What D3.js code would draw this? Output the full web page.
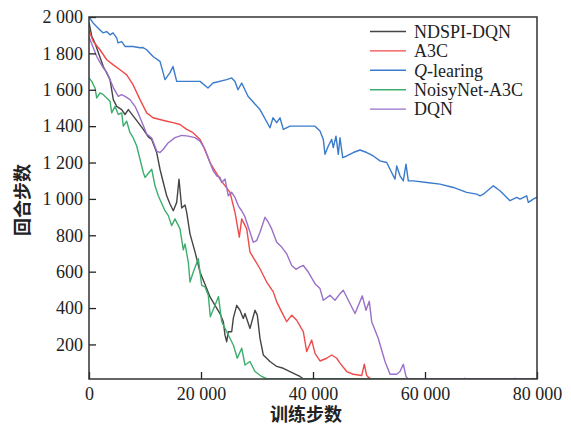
<!DOCTYPE html>
<html>
<head>
<meta charset="utf-8">
<script src="https://cdn.jsdelivr.net/npm/d3@7"></script>
<style>
  body { margin: 0; background: #fff; }
  svg { display: block; }
  .tick text { font-family: "Liberation Serif", "Times New Roman", serif; font-size: 18px; fill: #222; }
  .tick line { stroke: #222; stroke-width: 1.3; }
  .axis-title { font-family: "Liberation Sans", "Noto Sans CJK SC", sans-serif; font-size: 18px; font-weight: bold; fill: #222; }
</style>
</head>
<body>
<div id="chart"></div>
<script>
// 训练步数 / 回合步数
const xTicks = [0, 20000, 40000, 60000, 80000];
const yTicks = [200, 400, 600, 800, 1000, 1200, 1400, 1600, 1800, 2000];
const seriesNames = ['NDSPI-DQN', 'A3C', 'Q-learing', 'NoisyNet-A3C', 'DQN'];
const seriesColors = ['#454545', '#f04a4a', '#3b7bcc', '#3dae6e', '#9a70c8'];

const ndspiDqn = [[0,1970],[482,1896],[1071,1856],[1964,1779],[2554,1728],[3161,1692],[3750,1656],
  [4339,1546],[4946,1509],[5839,1491],[6429,1464],[7018,1491],[7911,1455],[8804,1419],[9696,1382],
  [10589,1341],[11196,1327],[12089,1255],[12679,1163],[13268,1090],[13875,1017],[14464,972],
  [15054,935],[15661,981],[16071,1109],[16554,950],[17143,967],[17446,926],[18036,808],[18929,709],
  [19821,598],[21018,507],[21607,461],[22500,415],[23393,370],[23982,325],[24286,251],[24589,215],
  [24875,270],[25482,270],[25768,343],[26375,415],[26964,388],[27554,343],[27857,370],[28750,288],
  [29643,388],[30054,361],[30536,233],[31125,142],[32321,106],[33518,79],[34696,69],[35893,51],
  [37089,33],[37679,24],[38300,0],[80000,0]];

const a3c = [[0,1925],[768,1865],[1964,1820],[3161,1765],[4286,1738],[5536,1710],[6732,1682],
  [7857,1628],[9107,1546],[10304,1473],[11429,1446],[13875,1427],[15000,1419],[16250,1409],
  [17446,1382],[18571,1364],[19821,1327],[20411,1291],[21607,1200],[23393,1109],[25179,1036],
  [26071,926],[26839,790],[27268,890],[28161,835],[28750,708],[30536,616],[31732,543],[32911,489],
  [33518,434],[34696,361],[35304,325],[36196,361],[37089,333],[38268,270],[38875,161],[39768,224],
  [40357,151],[41250,109],[42446,124],[43339,142],[44232,124],[44821,97],[46018,51],[47196,36],
  [48696,29],[49161,91],[49589,29],[49875,20],[50400,0],[80000,0]];

const qLearning = [[0,2000],[768,1966],[1964,1929],[2500,1913],[3161,1920],[3750,1902],[4286,1913],
  [4946,1885],[5179,1858],[5839,1865],[6429,1838],[7857,1838],[9107,1831],[9643,1832],[10304,1820],
  [11429,1783],[12679,1756],[13571,1656],[14464,1694],[15000,1728],[15661,1646],[17446,1646],
  [19821,1646],[21250,1610],[22143,1637],[24589,1656],[25482,1665],[26071,1646],[26607,1600],
  [27268,1637],[28393,1564],[30536,1491],[32321,1391],[32857,1446],[33518,1419],[34107,1446],
  [34696,1382],[35893,1400],[37679,1400],[40357,1400],[41250,1373],[41839,1327],[42143,1245],
  [42732,1291],[43339,1327],[43625,1282],[44107,1345],[44518,1245],[44821,1336],[45304,1227],
  [46018,1236],[47196,1255],[48393,1269],[49589,1255],[50768,1236],[51964,1209],[53161,1200],
  [53750,1163],[54643,1109],[54946,1181],[55536,1127],[56125,1099],[56607,1191],[57018,1099],
  [57911,1099],[60304,1090],[62679,1081],[65054,1063],[67446,1036],[69232,1026],[69821,1017],
  [70411,1026],[72196,1072],[73393,1045],[75179,990],[76375,1008],[76964,999],[78161,1017],
  [78446,981],[79339,999],[80000,1010]];

const noisyNetA3c = [[0,1665],[482,1646],[1071,1610],[1375,1555],[1964,1583],[2554,1573],[3161,1555],
  [3750,1537],[4054,1473],[4643,1509],[5232,1464],[5839,1473],[6125,1400],[6732,1427],[7321,1364],
  [7911,1335],[8518,1291],[9107,1218],[9696,1145],[10000,1118],[11196,1163],[11786,1072],
  [12375,1017],[13571,935],[14161,908],[14768,853],[15357,890],[16250,835],[16839,720],[17143,753],
  [17732,653],[18036,543],[18625,598],[19518,671],[20125,525],[20714,516],[21304,470],[21661,352],
  [22500,415],[23125,463],[23696,325],[24589,270],[25768,197],[26482,124],[27268,179],[27857,87],
  [28750,106],[29643,51],[30839,24],[31800,0],[66800,0],[67100,14],[67400,0],[75800,0],[76100,14],
  [76400,0],[79000,0],[79300,14],[79600,0],[80000,0]];

const dqn = [[0,1890],[768,1831],[1375,1783],[1964,1751],[2554,1720],[3161,1697],[3750,1656],
  [4339,1612],[5232,1564],[5839,1573],[6429,1564],[7321,1546],[8214,1509],[8804,1470],[9696,1404],
  [10304,1357],[11196,1335],[12089,1263],[12679,1255],[13268,1273],[14161,1309],[15357,1337],
  [16554,1349],[17732,1345],[18929,1337],[19821,1318],[20714,1273],[21607,1200],[22196,1154],
  [22804,1127],[23393,1118],[23696,1090],[24286,1109],[24875,1017],[25482,1036],[26071,1008],
  [26661,962],[27268,935],[27857,901],[28750,817],[29339,762],[29946,771],[30536,817],[31429,899],
  [32018,872],[32625,835],[33518,762],[34411,735],[35304,698],[36196,634],[36964,613],[37679,626],
  [38268,634],[39161,598],[40357,534],[41250,507],[41839,443],[43036,470],[43929,443],[44821,479],
  [45411,498],[46018,461],[47500,370],[48804,467],[49464,388],[50054,437],[50482,325],[51661,233],
  [52857,106],[53750,36],[54946,36],[55536,51],[56125,91],[56607,24],[57000,0],[80000,0]];

const seriesData = [ndspiDqn, a3c, qLearning, noisyNetA3c, dqn];

const width = 571, height = 426;
const margin = { top: 17, right: 34, bottom: 47, left: 89 };

const svg = d3.select('#chart').append('svg')
  .attr('width', width)
  .attr('height', height);

const x = d3.scaleLinear().domain([0, 80000]).range([margin.left, width - margin.right]);
const y = d3.scaleLinear().domain([10, 2000]).range([height - margin.bottom, margin.top]).clamp(true);

const fmt = d => d3.format(',')(d).replace(/,/g, ' ');

svg.append('defs').append('clipPath').attr('id', 'plot-clip')
  .append('rect')
  .attr('x', margin.left).attr('y', margin.top)
  .attr('width', x.range()[1] - margin.left)
  .attr('height', y.range()[0] - margin.top);

// 曲线
const line = d3.line().x(d => x(d[0])).y(d => y(d[1]));
const lines = svg.append('g').attr('clip-path', 'url(#plot-clip)');
seriesData.forEach((data, i) => {
  lines.append('path')
    .datum(data)
    .attr('fill', 'none')
    .attr('stroke', seriesColors[i])
    .attr('stroke-width', 1.4)
    .attr('stroke-linejoin', 'round')
    .attr('d', line);
});

// 坐标轴，刻度朝内
svg.append('g')
  .attr('transform', `translate(0,${y.range()[0]})`)
  .call(d3.axisBottom(x).tickValues(xTicks).tickFormat(fmt).tickSizeInner(-7).tickSizeOuter(0).tickPadding(8))
  .call(g => g.select('.domain').remove());

svg.append('g')
  .attr('transform', `translate(${margin.left},0)`)
  .call(d3.axisLeft(y).tickValues(yTicks).tickFormat(fmt).tickSizeInner(-7).tickSizeOuter(0).tickPadding(6))
  .call(g => g.select('.domain').remove());

svg.append('rect')
  .attr('x', margin.left).attr('y', margin.top)
  .attr('width', x.range()[1] - margin.left)
  .attr('height', y.range()[0] - margin.top)
  .attr('fill', 'none')
  .attr('stroke', '#333')
  .attr('stroke-width', 1.5);

// 轴标题
svg.append('text')
  .attr('class', 'axis-title')
  .attr('x', 306).attr('y', 421)
  .attr('text-anchor', 'middle')
  .text('训练步数');

svg.append('text')
  .attr('class', 'axis-title')
  .attr('transform', 'translate(29,200) rotate(-90)')
  .attr('text-anchor', 'middle')
  .text('回合步数');

// 图例
const legend = svg.append('g').attr('transform', 'translate(370,31.5)');
seriesNames.forEach((name, i) => {
  const row = legend.append('g').attr('transform', `translate(0,${i * 19.4})`);
  row.append('line')
    .attr('x1', 0).attr('x2', 36)
    .attr('stroke', seriesColors[i])
    .attr('stroke-width', 1.4);
  const t = row.append('text')
    .attr('x', 44).attr('dy', '0.35em')
    .style('font-family', '"Liberation Serif", "Times New Roman", serif')
    .style('font-size', '18px')
    .attr('fill', '#222');
  if (name.startsWith('Q-')) {
    t.append('tspan').style('font-style', 'italic').text('Q');
    t.append('tspan').text(name.slice(1));
  } else {
    t.text(name);
  }
});
</script>
</body>
</html>
